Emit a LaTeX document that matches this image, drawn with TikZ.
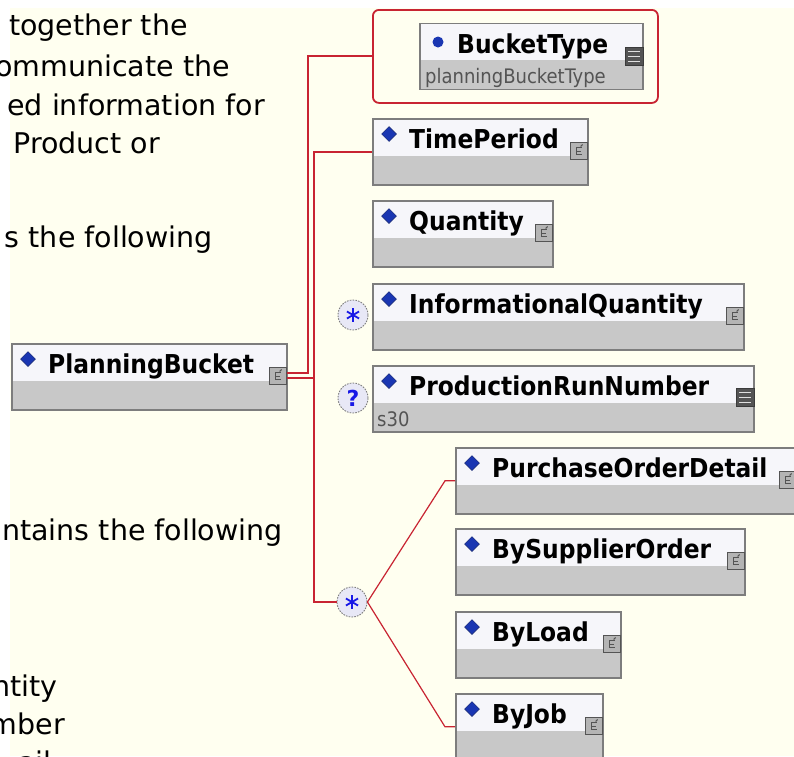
\documentclass[tikz,border=0pt]{standalone}
\usepackage{fontspec}
\setmainfont{DejaVu Sans}
\newfontfamily\xsdfont{DejaVu Sans Condensed}
\usetikzlibrary{shapes.geometric,shapes.misc}

\definecolor{ivory}{RGB}{255,255,240}
\definecolor{boxtop}{RGB}{246,246,250}
\definecolor{boxgray}{RGB}{200,200,200}
\definecolor{boxline}{RGB}{125,125,125}
\definecolor{linkred}{RGB}{200,36,50}
\definecolor{dmdblue}{RGB}{26,54,178}
\definecolor{cmpfill}{RGB}{232,232,246}
\definecolor{cmpblue}{RGB}{24,24,230}
\definecolor{icondark}{RGB}{84,84,84}

\tikzset{
  elem/.style={draw=boxline, line width=1.6pt, fill=boxtop, anchor=north west,
    minimum height=66pt, inner sep=0pt,
    path picture={\fill[boxgray] ([yshift=-37pt]path picture bounding box.north west)
      rectangle (path picture bounding box.south east);}},
  grp/.style={draw=linkred, line width=1.8pt, rounded corners=6pt, anchor=north west,
    minimum width=285pt, minimum height=93pt, inner sep=0pt},
  ename/.style={font=\xsdfont\bfseries\fontsize{26}{30}\selectfont, anchor=base west, inner sep=0pt},
  esub/.style={font=\xsdfont\fontsize{20}{24}\selectfont, text=icondark, anchor=base west, inner sep=0pt},
  para/.style={font=\fontsize{28.5}{34}\selectfont, anchor=base east, inner sep=0pt},
  dmd/.style={diamond, fill=dmdblue, draw=dmdblue!60!black, line width=.5pt,
    minimum width=15pt, minimum height=15pt, inner sep=0pt},
  cplx/.style={draw=icondark, fill=boxgray!90!black, line width=.9pt, anchor=north east,
    minimum size=17pt, inner sep=0pt,
    path picture={
      \draw[icondark, line width=.9pt] ([shift={(3pt,3.5pt)}]path picture bounding box.center)
        -- ++(-5pt,0) -- ++(0,-7pt) -- ++(5pt,0);
      \draw[icondark, line width=.9pt] ([shift={(-2pt,0)}]path picture bounding box.center) -- ++(4pt,0);
      \draw[icondark, line width=.9pt] ([shift={(2pt,4.5pt)}]path picture bounding box.center) -- ++(2pt,2pt);}},
  lst/.style={fill=icondark, draw=icondark!70!black, anchor=north east,
    minimum size=18pt, inner sep=0pt,
    path picture={\foreach \k in {-5,0,5}
      \draw[white!75!gray, line width=1.3pt] ([shift={(-6pt,\k pt)}]path picture bounding box.center) -- ++(12pt,0);}},
  cmp/.style={circle, draw=boxline, dash pattern=on 1.6pt off 1.2pt, line width=.9pt,
    fill=cmpfill, minimum size=30pt, inner sep=0pt},
  star/.style={cmp, path picture={\foreach \a in {90,30,150}
      \draw[cmpblue, line width=1.8pt, solid] (path picture bounding box.center) ++(\a:7pt) -- ++(\a+180:14pt);}},
  rlink/.style={draw=linkred, line width=2pt},
  rthin/.style={draw=linkred, line width=1.2pt}
}

\begin{document}
\begin{tikzpicture}[x=1pt, y=-1pt]

  \useasboundingbox (0,0) rectangle (794,756);
  \fill[white] (0,0) rectangle (794,756);
  \fill[ivory] (10,8) rectangle (794,756);

  \node[para] (t1) at (188,35) {together the};
  \node[para] (t2) at (230,76) {ommunicate the};
  \node[para] (t3) at (265,115) {ed information for};
  \node[para] (t4) at (160,153) {Product or};
  \node[para] (t5) at (213,247) {s the following};
  \node[para] (t6) at (283,540) {ntains the following};
  \node[para] (t7) at (58,696) {ntity};
  \node[para] (t8) at (65,734) {mber};
  \node[para] (t9) at (52,772) {ail};

  \node[grp] (btgrp) at (372,9) {};
  \node[elem, chamfered rectangle, chamfered rectangle xsep=4pt, chamfered rectangle ysep=4pt,
    minimum width=223pt] (bt) at (420,23) {};
  \node[circle, fill=dmdblue, minimum size=11pt, inner sep=0pt] (bt-d) at ([xshift=18pt,yshift=-19pt]bt.north west) {};
  \node[ename] (bt-t) at ([xshift=37pt,yshift=-30pt]bt.north west) {BucketType};
  \node[esub] (bt-s) at ([xshift=5pt,yshift=-60pt]bt.north west) {planningBucketType};
  \node[lst] (bt-ic) at ([xshift=0pt,yshift=-24pt]bt.north east) {};

  \foreach \n/\x/\y/\w/\t in {pb/11/343/275/PlanningBucket, tp/372/118/215/TimePeriod,
      qty/372/200/180/Quantity, iq/372/283/371/InformationalQuantity,
      prn/372/365/381/ProductionRunNumber, pod/455/447/341/PurchaseOrderDetail,
      bso/455/528/289/BySupplierOrder, bl/455/611/165/ByLoad, bj/455/693/147/ByJob} {
    \node[elem, minimum width=\w pt] (\n) at (\x,\y) {};
    \node[dmd] (\n-d) at ([xshift=17pt,yshift=-16pt]\n.north west) {};
    \node[ename] (\n-t) at ([xshift=37pt,yshift=-30pt]\n.north west) {\t};
  }
  \foreach \n in {pb,tp,qty,iq,pod,bso,bl,bj}
    \node[cplx] (\n-ic) at ([xshift=-1pt,yshift=-24pt]\n.north east) {};
  \node[lst] (prn-ic) at ([xshift=0pt,yshift=-23pt]prn.north east) {};
  \node[esub] (prn-s) at ([xshift=5pt,yshift=-61pt]prn.north west) {s30};

  \node[star] (iq-c) at (353,315) {};
  \node[cmp, text=cmpblue, font=\bfseries\fontsize{22}{22}\selectfont] (prn-c) at (353,398) {?};
  \node[star] (seq) at (352,602) {};

  \draw[rlink] ([yshift=2.5pt]pb-ic.east) -- ++(21,0) |- (btgrp.west);
  \draw[rlink] ([yshift=-2.5pt]pb-ic.east) -- ++(27,0) coordinate (jn) |- (tp.west);
  \draw[rlink] (jn) |- (seq.west);
  \draw[rthin] (seq.east) -- ([xshift=-10pt]pod.west) -- (pod.west);
  \draw[rthin] (seq.east) -- ([xshift=-10pt]bj.west) -- (bj.west);

\end{tikzpicture}
\end{document}
